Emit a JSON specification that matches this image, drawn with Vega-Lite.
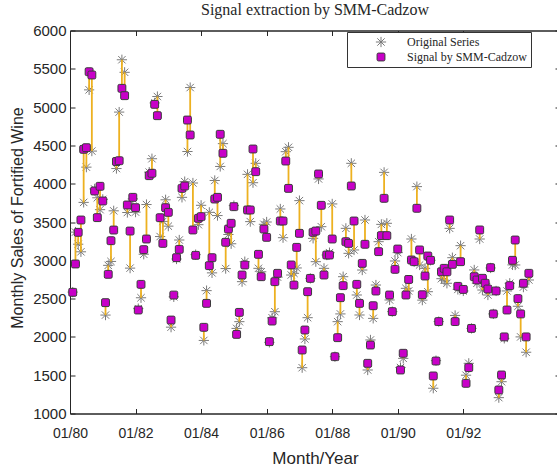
{
  "$schema": "https://vega.github.io/schema/vega-lite/v6.json",
  "autosize": "none",
  "padding": {"left": 70, "top": 30.5, "right": 0, "bottom": 52.5},
  "width": 490,
  "height": 383,
  "background": "white",
  "title": {"text": "Signal extraction by SMM-Cadzow", "font": "Liberation Serif", "fontSize": 16, "fontWeight": "normal", "color": "#262626", "offset": 6, "anchor": "middle"},
  "data": {"values": [
    {"m":1,"orig":2585,"sig":2582},{"m":2,"orig":3368,"sig":2952},{"m":3,"orig":3210,"sig":3365},{"m":4,"orig":3111,"sig":3526},{"m":5,"orig":3756,"sig":4449},{"m":6,"orig":4216,"sig":4470},{"m":7,"orig":5225,"sig":5462},{"m":8,"orig":4426,"sig":5419},{"m":9,"orig":3932,"sig":3905},{"m":10,"orig":3816,"sig":3557},{"m":11,"orig":3661,"sig":3966},{"m":12,"orig":3795,"sig":3774},
    {"m":13,"orig":2285,"sig":2447},{"m":14,"orig":2934,"sig":2817},{"m":15,"orig":2985,"sig":3256},{"m":16,"orig":3646,"sig":3395},{"m":17,"orig":4198,"sig":4290},{"m":18,"orig":4935,"sig":4300},{"m":19,"orig":5618,"sig":5245},{"m":20,"orig":5454,"sig":5149},{"m":21,"orig":3624,"sig":3722},{"m":22,"orig":2898,"sig":3382},{"m":23,"orig":3802,"sig":3822},{"m":24,"orig":3629,"sig":3687},
    {"m":25,"orig":2369,"sig":2351},{"m":26,"orig":2511,"sig":2686},{"m":27,"orig":3079,"sig":3139},{"m":28,"orig":3728,"sig":3278},{"m":29,"orig":4151,"sig":4105},{"m":30,"orig":4326,"sig":4136},{"m":31,"orig":5054,"sig":5036},{"m":32,"orig":5138,"sig":4888},{"m":33,"orig":3310,"sig":3556},{"m":34,"orig":3508,"sig":3221},{"m":35,"orig":3790,"sig":3687},{"m":36,"orig":3446,"sig":3626},
    {"m":37,"orig":2127,"sig":2220},{"m":38,"orig":2523,"sig":2546},{"m":39,"orig":3017,"sig":3034},{"m":40,"orig":3265,"sig":3143},{"m":41,"orig":3822,"sig":3939},{"m":42,"orig":4027,"sig":3970},{"m":43,"orig":4420,"sig":4831},{"m":44,"orig":5255,"sig":4636},{"m":45,"orig":4009,"sig":3396},{"m":46,"orig":3074,"sig":3065},{"m":47,"orig":3465,"sig":3548},{"m":48,"orig":3718,"sig":3570},
    {"m":49,"orig":1954,"sig":2125},{"m":50,"orig":2604,"sig":2438},{"m":51,"orig":3626,"sig":2930},{"m":52,"orig":2836,"sig":3034},{"m":53,"orig":4042,"sig":3800},{"m":54,"orig":3584,"sig":3822},{"m":55,"orig":4225,"sig":4645},{"m":56,"orig":4523,"sig":4397},{"m":57,"orig":2892,"sig":3235},{"m":58,"orig":3337,"sig":3408},{"m":59,"orig":3216,"sig":3483},{"m":60,"orig":3714,"sig":3700},
    {"m":61,"orig":2111,"sig":2033},{"m":62,"orig":2199,"sig":2320},{"m":63,"orig":2721,"sig":2808},{"m":64,"orig":2982,"sig":2939},{"m":65,"orig":4122,"sig":3657},{"m":66,"orig":3505,"sig":3657},{"m":67,"orig":4013,"sig":4453},{"m":68,"orig":4266,"sig":4157},{"m":69,"orig":2895,"sig":3078},{"m":70,"orig":2850,"sig":2786},{"m":71,"orig":3470,"sig":3408},{"m":72,"orig":3500,"sig":3300},
    {"m":73,"orig":1929,"sig":1938},{"m":74,"orig":2250,"sig":2207},{"m":75,"orig":2329,"sig":2721},{"m":76,"orig":2780,"sig":2830},{"m":77,"orig":3670,"sig":3513},{"m":78,"orig":3295,"sig":3513},{"m":79,"orig":4418,"sig":4296},{"m":80,"orig":4475,"sig":3939},{"m":81,"orig":2808,"sig":2939},{"m":82,"orig":2830,"sig":2677},{"m":83,"orig":2900,"sig":3169},{"m":84,"orig":3779,"sig":3352},
    {"m":85,"orig":1598,"sig":1829},{"m":86,"orig":1973,"sig":2090},{"m":87,"orig":2251,"sig":2590},{"m":88,"orig":2764,"sig":2764},{"m":89,"orig":3287,"sig":3365},{"m":90,"orig":2982,"sig":3382},{"m":91,"orig":4062,"sig":4127},{"m":92,"orig":3439,"sig":3718},{"m":93,"orig":2895,"sig":2808},{"m":94,"orig":3069,"sig":3069},{"m":95,"orig":3100,"sig":3069},{"m":96,"orig":3736,"sig":3278},
    {"m":97,"orig":1742,"sig":1742},{"m":98,"orig":2199,"sig":1990},{"m":99,"orig":2300,"sig":2512},{"m":100,"orig":2786,"sig":2669},{"m":101,"orig":3417,"sig":3243},{"m":102,"orig":3091,"sig":3221},{"m":103,"orig":4266,"sig":3970},{"m":104,"orig":3135,"sig":3513},{"m":105,"orig":2547,"sig":2686},{"m":106,"orig":2286,"sig":2438},{"m":107,"orig":2873,"sig":2960},{"m":108,"orig":3526,"sig":3209},
    {"m":109,"orig":1568,"sig":1655},{"m":110,"orig":1960,"sig":1894},{"m":111,"orig":2242,"sig":2407},{"m":112,"orig":2677,"sig":2599},{"m":113,"orig":3243,"sig":3113},{"m":114,"orig":3469,"sig":3322},{"m":115,"orig":4148,"sig":3809},{"m":116,"orig":3483,"sig":3322},{"m":117,"orig":2482,"sig":2547},{"m":118,"orig":2330,"sig":2330},{"m":119,"orig":2991,"sig":2882},{"m":120,"orig":3100,"sig":3147},
    {"m":121,"orig":1600,"sig":1568},{"m":122,"orig":1720,"sig":1786},{"m":123,"orig":2634,"sig":2547},{"m":124,"orig":2600,"sig":2750},{"m":125,"orig":3278,"sig":3004},{"m":126,"orig":2982,"sig":2982},{"m":127,"orig":3962,"sig":3679},{"m":128,"orig":2939,"sig":3135},{"m":129,"orig":2480,"sig":2550},{"m":130,"orig":2895,"sig":2795},{"m":131,"orig":2590,"sig":3056},{"m":132,"orig":3000,"sig":3000},
    {"m":133,"orig":1330,"sig":1490},{"m":134,"orig":1690,"sig":1685},{"m":135,"orig":2200,"sig":2200},{"m":136,"orig":2760,"sig":2850},{"m":137,"orig":2740,"sig":2895},{"m":138,"orig":2700,"sig":2850},{"m":139,"orig":3417,"sig":3526},{"m":140,"orig":3034,"sig":2947},{"m":141,"orig":2280,"sig":2200},{"m":142,"orig":2620,"sig":2660},{"m":143,"orig":3191,"sig":2982},{"m":144,"orig":2600,"sig":2620},
    {"m":145,"orig":1500,"sig":1394},{"m":146,"orig":1655,"sig":1599},{"m":147,"orig":2111,"sig":2111},{"m":148,"orig":2874,"sig":2786},{"m":149,"orig":2700,"sig":2743},{"m":150,"orig":3278,"sig":3396},{"m":151,"orig":2612,"sig":2765},{"m":152,"orig":2700,"sig":2700},{"m":153,"orig":2547,"sig":2625},{"m":154,"orig":2900,"sig":2904},{"m":155,"orig":2300,"sig":2300},{"m":156,"orig":2600,"sig":2600},
    {"m":157,"orig":1207,"sig":1307},{"m":158,"orig":1415,"sig":1503},{"m":159,"orig":1981,"sig":2000},{"m":160,"orig":2600,"sig":2351},{"m":161,"orig":2700,"sig":2669},{"m":162,"orig":2940,"sig":3000},{"m":163,"orig":2939,"sig":3265},{"m":164,"orig":2400,"sig":2500},{"m":165,"orig":2000,"sig":2300},{"m":166,"orig":2650,"sig":2700},{"m":167,"orig":1800,"sig":2000},{"m":168,"orig":2743,"sig":2830}
  ]},
  "resolve": {"axis": {"x": "independent", "y": "independent"}},
  "layer": [
    {
      "transform": [{"fold": ["orig", "sig"], "as": ["series", "value"]}, {"filter": "datum.series == 'orig'"}],
      "mark": {"type": "point", "filled": false, "strokeWidth": 1, "opacity": 1},
      "encoding": {
        "x": {"field": "m", "type": "quantitative", "scale": {"domain": [0, 179.4], "nice": false, "zero": false},
              "axis": {"orient": "top", "values": [0, 24, 48, 72, 96, 120, 144], "labels": false, "tickSize": -5, "grid": false, "title": null, "domainColor": "#262626", "tickColor": "#262626"}},
        "y": {"field": "value", "type": "quantitative", "scale": {"domain": [1000, 6000], "nice": false, "zero": false},
              "axis": {"orient": "right", "values": [1000, 1500, 2000, 2500, 3000, 3500, 4000, 4500, 5000, 5500, 6000], "labels": false, "tickSize": -5, "grid": false, "title": null, "domainColor": "#262626", "tickColor": "#262626"}},
        "shape": {"field": "series", "type": "nominal", "scale": {"domain": ["orig", "sig"], "range": ["M-1,0L1,0M0,-1L0,1M-0.72,-0.72L0.72,0.72M-0.72,0.72L0.72,-0.72", "M-0.65,-1H0.65Q1,-1 1,-0.65V0.65Q1,1 0.65,1H-0.65Q-1,1 -1,0.65V-0.65Q-1,-1 -0.65,-1Z"]},
                  "legend": {"orient": "none", "legendX": 277, "legendY": 1.5, "direction": "vertical", "title": null, "padding": 4, "symbolOffset": 24, "labelOffset": 20, "rowPadding": 1, "strokeColor": "#333333", "fillColor": "white", "labelFont": "Liberation Serif", "labelFontSize": 12, "labelColor": "#262626", "labelLimit": 300, "symbolStrokeWidth": 1, "labelExpr": "datum.value == 'orig' ? 'Original Series' : 'Signal by SMM-Cadzow'"}},
        "fill": {"field": "series", "type": "nominal", "scale": {"domain": ["orig", "sig"], "range": ["transparent", "#c800c8"]}},
        "stroke": {"field": "series", "type": "nominal", "scale": {"domain": ["orig", "sig"], "range": ["#7a7a7a", "#3a3a3a"]}},
        "size": {"field": "series", "type": "nominal", "scale": {"domain": ["orig", "sig"], "range": [105, 62]}}
      }
    },
    {
      "mark": {"type": "rule", "color": "#EDB120", "strokeWidth": 1.8},
      "encoding": {
        "x": {"field": "m", "type": "quantitative",
              "axis": {"orient": "bottom", "values": [0, 24, 48, 72, 96, 120, 144], "labelExpr": "'01/' + format(80 + datum.value/12, '02d')", "labelFlush": false, "labelOverlap": false, "tickSize": -5, "labelPadding": 18, "labelFont": "Liberation Sans", "labelFontSize": 14, "labelColor": "#262626", "tickColor": "#262626", "domainColor": "#262626", "grid": false, "title": "Month/Year", "titleFont": "Liberation Sans", "titleFontSize": 17, "titleFontWeight": "normal", "titleColor": "#262626", "titleY": 49.5, "titleBaseline": "alphabetic"}},
        "y": {"field": "orig", "type": "quantitative",
              "axis": {"orient": "left", "values": [1000, 1500, 2000, 2500, 3000, 3500, 4000, 4500, 5000, 5500, 6000], "format": "d", "labelFlush": false, "labelOverlap": false, "tickSize": -5, "labelPadding": 9, "labelFont": "Liberation Sans", "labelFontSize": 15, "labelColor": "#262626", "tickColor": "#262626", "domainColor": "#262626", "grid": false, "title": "Monthly Sales of Fortified Wine", "titleFont": "Liberation Sans", "titleFontSize": 16, "titleFontWeight": "normal", "titleColor": "#262626", "titleX": -53, "titleY": 187, "titleAngle": -90, "titleBaseline": "middle", "titleAlign": "center"}},
        "y2": {"field": "sig"}
      }
    },
    {
      "transform": [{"fold": ["orig", "sig"], "as": ["series", "value"]}, {"filter": "datum.series == 'sig'"}],
      "mark": {"type": "point", "filled": false, "strokeWidth": 1, "opacity": 1},
      "encoding": {
        "x": {"field": "m", "type": "quantitative", "axis": null},
        "y": {"field": "value", "type": "quantitative", "axis": null},
        "shape": {"field": "series", "type": "nominal"},
        "fill": {"field": "series", "type": "nominal"},
        "stroke": {"field": "series", "type": "nominal"},
        "size": {"field": "series", "type": "nominal"}
      }
    }
  ],
  "config": {"view": {"stroke": "#262626", "strokeWidth": 1}, "axis": {"domainWidth": 1, "tickWidth": 1}}
}
